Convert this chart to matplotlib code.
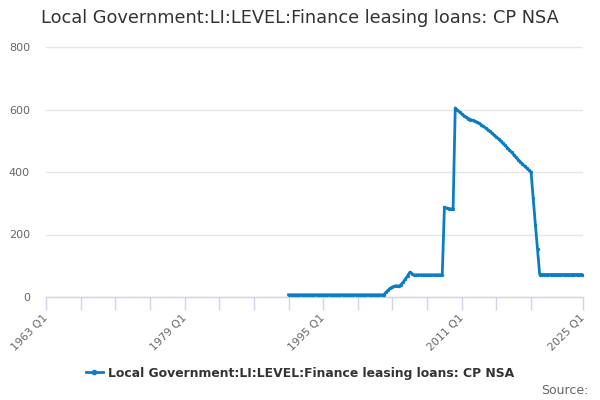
import matplotlib
matplotlib.use("Agg")
import matplotlib.pyplot as plt
import numpy as np
from matplotlib.lines import Line2D

TITLE = "Local Government:LI:LEVEL:Finance leasing loans: CP NSA"

# quarterly category axis, 1963 Q1 .. 2025 Q1
FIRST_YEAR = 1963
LAST_YEAR = 2025
categories = [f"{y} Q{q}" for y in range(FIRST_YEAR, LAST_YEAR + 1) for q in range(1, 5)]
categories = categories[:categories.index("2025 Q1") + 1]

# series begins in 1991 Q1
series_start = "1991 Q1"
values = [
    # 1991 Q1 - 2001 Q4
    7, 7, 7, 7, 7, 7, 7, 7, 7, 7, 7, 7, 7, 7, 7, 7, 7, 7, 7, 7, 7, 7,
    7, 7, 7, 7, 7, 7, 7, 7, 7, 7, 7, 7, 7, 7, 7, 7, 7, 7, 7, 7, 7, 7,
    # 2002 Q1 - 2005 Q3
    7, 15, 22, 28, 32, 35, 36, 34, 40, 48, 57, 68, 79, 75, 70,
    # 2005 Q4 - 2008 Q4
    71, 71, 71, 71, 71, 71, 71, 71, 71, 71, 71, 71, 71,
    # 2009 Q1 - 2010 Q1
    287, 285, 283, 282, 281,
    # 2010 Q2 - 2019 Q1
    605, 598, 592, 586, 580, 575, 571, 568, 565, 562, 559, 556,
    551, 546, 541, 536, 530, 524, 518, 512, 506, 499, 492, 485,
    478, 471, 463, 455, 447, 440, 433, 426, 419, 412, 406, 400,
    # 2019 Q2 - 2019 Q4
    316, 232, 153,
    # 2020 Q1 - 2025 Q1
    72, 72, 72, 72, 72, 72, 72, 72, 72, 72, 72, 72, 72, 72, 72, 72,
    72, 72, 72, 72, 72,
]

y_ticks = [0, 200, 400, 600, 800]
x_label_cats = ["1963 Q1", "1979 Q1", "1995 Q1", "2011 Q1", "2025 Q1"]
x_tick_cats = [categories[i] for i in range(0, 225, 16)] + ["2025 Q1"]

LINE_COLOR = "#0b7dc4"
GRID_COLOR = "#e6e6e6"
AXIS_COLOR = "#ccd6eb"
TEXT_COLOR = "#666666"

start = categories.index(series_start)
x = np.arange(start, start + len(values))

fig = plt.figure(figsize=(6, 4), dpi=100)
ax = fig.add_axes([46 / 600, 1 - 297 / 400, (583 - 46) / 600, (297 - 47) / 400])

ax.plot(x, values, color=LINE_COLOR, lw=2, marker="o", ms=2.4,
        markeredgewidth=0, zorder=3)

ax.set_xlim(0, len(categories) - 1)
ax.set_ylim(0, 800)

ax.set_yticks(y_ticks)
ax.set_yticklabels([str(v) for v in y_ticks], color=TEXT_COLOR, fontsize=8)
ax.tick_params(axis="y", length=0, pad=11.5)
ax.grid(axis="y", color=GRID_COLOR, lw=1)
ax.set_axisbelow(True)

ax.set_xticks([categories.index(c) for c in x_tick_cats])
ax.set_xticklabels([c if c in x_label_cats else "" for c in x_tick_cats],
                   rotation=45, ha="right", va="center", rotation_mode="anchor",
                   color=TEXT_COLOR, fontsize=7.8)
ax.tick_params(axis="x", length=9, color=AXIS_COLOR, width=1, pad=5)

for s in ["top", "right", "left"]:
    ax.spines[s].set_visible(False)
ax.spines["bottom"].set_color(AXIS_COLOR)
ax.spines["bottom"].set_linewidth(1)

fig.text(0.5, 1 - 18 / 400, TITLE, ha="center", va="center",
         fontsize=12.8, color="#333333")

handle = Line2D([], [], color=LINE_COLOR, lw=2, marker="o", ms=3)
fig.legend([handle], [TITLE], loc="center", bbox_to_anchor=(0.5, 1 - 373 / 400),
           frameon=False, handlelength=1.4, handletextpad=0.4,
           prop={"size": 8.9, "weight": "bold"}, labelcolor="#333333")

fig.text(589 / 600, 1 - 390 / 400, "Source:", ha="right", va="center",
         fontsize=9, color=TEXT_COLOR)

fig.savefig("out.png", dpi=100)
